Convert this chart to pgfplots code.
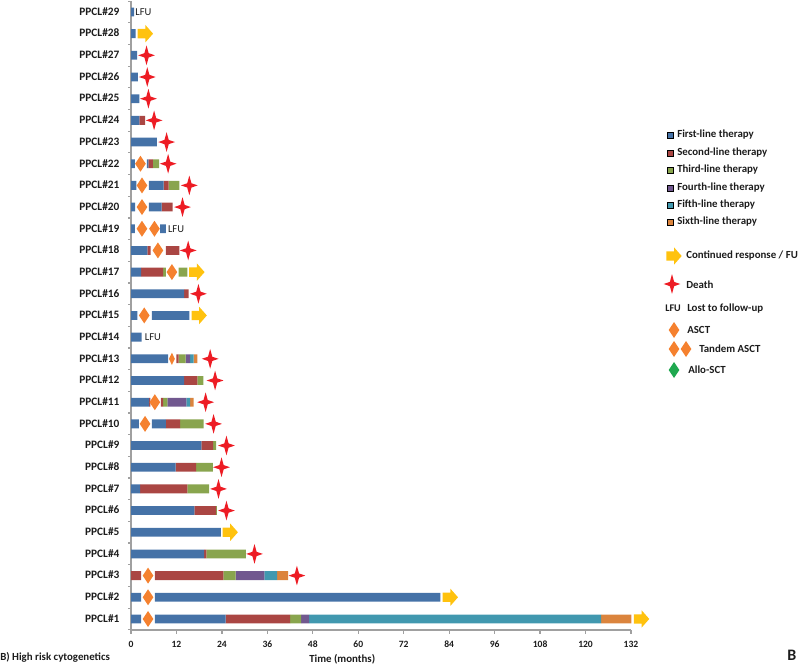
\documentclass[border=0pt]{standalone}
\usepackage{fontspec}
\setmainfont{Carlito}
\usepackage{pgfplots}
\usepackage{pgfplotstable}
\pgfplotsset{compat=1.18}

\definecolor{line1}{HTML}{4572A7}
\definecolor{line2}{HTML}{AA4643}
\definecolor{line3}{HTML}{89A54E}
\definecolor{line4}{HTML}{71588F}
\definecolor{line5}{HTML}{4198AF}
\definecolor{line6}{HTML}{DB843D}
\definecolor{axisgray}{HTML}{A0A0A0}
\definecolor{starred}{HTML}{ED1C24}
\definecolor{diamorange}{HTML}{F5812F}
\definecolor{arrowyellow}{HTML}{FFC20E}
\definecolor{allogreen}{HTML}{1FA84F}
\definecolor{txt}{HTML}{1C1C1C}

% 1 px of the reference = 0.75pt
\pgfdeclareplotmark{deathstar}{%
  \pgfpathmoveto{\pgfqpoint{0pt}{7.4pt}}
  \pgfpathlineto{\pgfqpoint{1.6pt}{1.6pt}}
  \pgfpathlineto{\pgfqpoint{6.3pt}{0pt}}
  \pgfpathlineto{\pgfqpoint{1.6pt}{-1.6pt}}
  \pgfpathlineto{\pgfqpoint{0pt}{-7.4pt}}
  \pgfpathlineto{\pgfqpoint{-1.6pt}{-1.6pt}}
  \pgfpathlineto{\pgfqpoint{-6.3pt}{0pt}}
  \pgfpathlineto{\pgfqpoint{-1.6pt}{1.6pt}}
  \pgfpathclose\pgfusepathqfill}
\pgfdeclareplotmark{contarrow}{%
  \pgfpathmoveto{\pgfqpoint{-5.75pt}{3.5pt}}
  \pgfpathlineto{\pgfqpoint{0pt}{3.5pt}}
  \pgfpathlineto{\pgfqpoint{0pt}{6.5pt}}
  \pgfpathlineto{\pgfqpoint{5.75pt}{0pt}}
  \pgfpathlineto{\pgfqpoint{0pt}{-6.5pt}}
  \pgfpathlineto{\pgfqpoint{0pt}{-3.5pt}}
  \pgfpathlineto{\pgfqpoint{-5.75pt}{-3.5pt}}
  \pgfpathclose\pgfusepathqfill}
\pgfdeclareplotmark{tx}{%
  \pgfpathmoveto{\pgfqpoint{0pt}{6pt}}
  \pgfpathlineto{\pgfqpoint{4pt}{0pt}}
  \pgfpathlineto{\pgfqpoint{0pt}{-6pt}}
  \pgfpathlineto{\pgfqpoint{-4pt}{0pt}}
  \pgfpathclose\pgfusepathqfill}
\pgfdeclareplotmark{txsmall}{%
  \pgfpathmoveto{\pgfqpoint{0pt}{4.6pt}}
  \pgfpathlineto{\pgfqpoint{2.2pt}{0pt}}
  \pgfpathlineto{\pgfqpoint{0pt}{-4.6pt}}
  \pgfpathlineto{\pgfqpoint{-2.2pt}{0pt}}
  \pgfpathclose\pgfusepathqfill}

\pgfplotstableread{
row a1   a2   a3   gap  b1   b2   b3   b4  b5   b6
1   2.7  0    0    3.6  18.7 17.0 2.9  2.1 77.1 8.0
2   2.7  0    0    3.6  75.4 0    0    0   0    0
3   0    2.7  0    3.6  0    18.1 3.2  7.6 3.4  2.9
4   19.3 0.6  10.4 0    0    0    0    0   0    0
5   23.7 0    0    0    0    0    0    0   0    0
6   16.7 5.8  0.2  0    0    0    0    0   0    0
7   2.4  12.5 5.7  0    0    0    0    0   0    0
8   11.8 5.4  4.4  0    0    0    0    0   0    0
9   18.6 3.1  0.8  0    0    0    0    0   0    0
10  2.1  0    0    3.4  3.7  3.8  6.2  0   0    0
11  4.8  0.3  0    2.8  0    0.6  1.1  5.0 1.0  0.9
12  14.0 3.5  1.6  0    0    0    0    0   0    0
13  9.8  0    0    2.2  0    0.6  1.8  1.2 0.9  1.0
14  2.8  0    0    0    0    0    0    0   0    0
15  1.7  0    0    3.8  9.9  0    0    0   0    0
16  14.0 1.2  0    0    0    0    0    0   0    0
17  2.7  5.8  0.7  3.4  0    0    2.3  0   0    0
18  4.3  0.9  0    4.0  0    3.6  0    0   0    0
19  1.0  0    0    6.7  1.5  0    0    0   0    0
20  1.1  0    0    3.6  3.4  2.9  0    0   0    0
21  1.4  0    0    3.3  3.9  1.3  2.9  0   0    0
22  1.0  0    0    3.2  0.4  1.2  1.6  0   0    0
23  6.8  0    0    0    0    0    0    0   0    0
24  2.2  1.5  0    0    0    0    0    0   0    0
25  2.2  0    0    0    0    0    0    0   0    0
26  1.8  0    0    0    0    0    0    0   0    0
27  1.6  0    0    0    0    0    0    0   0    0
28  1.2  0    0    0    0    0    0    0   0    0
29  0.8  0    0    0    0    0    0    0   0    0
}\bars

\pgfplotsset{
  plotarea/.style={
    at={(98.25pt,26.4pt)}, anchor=south west, scale only axis,
    width=375pt, height=471.5pt,
    xmin=0, xmax=132, ymin=0.5, ymax=29.5},
  seg/.style={fill=#1, draw=none},
}
\tikzset{
  lab/.style={anchor=west, inner sep=0pt, text=txt, font=\fontsize{8.15}{9}\selectfont\bfseries},
  lfu/.style={anchor=west, inner sep=0pt, text=txt, font=\fontsize{7.9}{9}\selectfont},
}

\begin{document}
\begin{tikzpicture}[x=1pt,y=1pt]
\path[use as bounding box] (0,0) rectangle (600,498.75);

\begin{axis}[plotarea,
  xbar stacked, bar width=6.6pt,
  axis lines=left, axis line style={-, draw=axisgray, line width=1.2pt},
  xtick={0,12,...,132},
  ytick={1,...,29},
  yticklabels={PPCL\#1,PPCL\#2,PPCL\#3,PPCL\#4,PPCL\#5,PPCL\#6,PPCL\#7,PPCL\#8,PPCL\#9,PPCL\#10,
    PPCL\#11,PPCL\#12,PPCL\#13,PPCL\#14,PPCL\#15,PPCL\#16,PPCL\#17,PPCL\#18,PPCL\#19,PPCL\#20,
    PPCL\#21,PPCL\#22,PPCL\#23,PPCL\#24,PPCL\#25,PPCL\#26,PPCL\#27,PPCL\#28,PPCL\#29},
  minor ytick={0.5,1.5,...,29.5},
  tick align=outside, tick pos=lower,
  major tick length=3pt, minor tick length=2.4pt,
  x tick style={draw=axisgray, line width=0.9pt},
  major y tick style={draw=none},
  minor y tick style={draw=axisgray, line width=0.9pt},
  /pgf/number format/assume math mode=true,
  xticklabel style={font=\fontsize{7.2}{8}\selectfont\bfseries, text=txt, inner sep=0pt, yshift=-5pt},
  yticklabel style={font=\fontsize{8.5}{10}\selectfont\bfseries, text=txt, inner sep=0pt, xshift=-5.5pt, yshift=0.4pt},
  clip=false]
\addplot[seg=line1] table[x=a1,y=row] {\bars};
\addplot[seg=line2] table[x=a2,y=row] {\bars};
\addplot[seg=line3] table[x=a3,y=row] {\bars};
\addplot[draw=none,fill=none] table[x=gap,y=row] {\bars};
\addplot[seg=line1] table[x=b1,y=row] {\bars};
\addplot[seg=line2] table[x=b2,y=row] {\bars};
\addplot[seg=line3] table[x=b3,y=row] {\bars};
\addplot[seg=line4] table[x=b4,y=row] {\bars};
\addplot[seg=line5] table[x=b5,y=row] {\bars};
\addplot[seg=line6] table[x=b6,y=row] {\bars};
\end{axis}

\begin{axis}[plotarea, hide axis, clip=false]
% deaths
\addplot[only marks, mark=deathstar, mark options={fill=starred,draw=none}] coordinates {
  (4.1,27) (4.3,26) (4.6,25) (6.1,24) (9.4,23) (9.8,22) (15.4,21) (13.6,20) (15.1,18)
  (17.8,16) (20.9,13) (22.2,12) (19.7,11) (21.8,10) (25.2,9) (23.9,8) (23.1,7) (25.2,6)
  (32.6,4) (43.8,3)};
% continued response
\addplot[only marks, mark=contarrow, mark options={fill=arrowyellow,draw=none}] coordinates {
  (3.8,28) (17.4,17) (18.0,15) (26.2,5) (84.3,2) (134.8,1)};
% ASCT
\addplot[only marks, mark=tx, mark options={fill=diamorange,draw=none}] coordinates {
  (2.5,22) (2.9,21) (2.9,20) (2.9,19) (6.2,19) (7.1,18) (10.8,17) (3.5,15) (6.3,11) (3.7,10)
  (4.5,3) (4.5,2) (4.5,1)};
\addplot[only marks, mark=txsmall, mark options={fill=diamorange,draw=none}] coordinates {(10.8,13)};
% LFU
\node[lfu] at (axis cs:1.1,29) {LFU};
\node[lfu] at (axis cs:9.7,19) {LFU};
\node[lfu] at (axis cs:3.6,14) {LFU};
\end{axis}

% legend and loose texts, in reference pixels
\begin{axis}[at={(0pt,0pt)}, anchor=south west, scale only axis, width=600pt, height=498.75pt,
  xmin=0, xmax=800, ymin=0, ymax=665, y dir=reverse, hide axis, clip=false]
\addplot[only marks, mark=square*, mark size=2.1pt, mark options={fill=line1,draw=none}] coordinates {(670,135)};
\addplot[only marks, mark=square*, mark size=2.1pt, mark options={fill=line2,draw=none}] coordinates {(670,153)};
\addplot[only marks, mark=square*, mark size=2.1pt, mark options={fill=line3,draw=none}] coordinates {(670,170)};
\addplot[only marks, mark=square*, mark size=2.1pt, mark options={fill=line4,draw=none}] coordinates {(670,188)};
\addplot[only marks, mark=square*, mark size=2.1pt, mark options={fill=line5,draw=none}] coordinates {(670,205)};
\addplot[only marks, mark=square*, mark size=2.1pt, mark options={fill=line6,draw=none}] coordinates {(670,222)};
\addplot[only marks, mark=contarrow, mark options={fill=arrowyellow,draw=none}] coordinates {(674,256)};
\addplot[only marks, mark=deathstar, mark options={fill=starred,draw=none}] coordinates {(672,284)};
\addplot[only marks, mark=tx, mark options={fill=diamorange,draw=none}] coordinates {(674,330) (674,349) (686,349)};
\addplot[only marks, mark=tx, mark options={fill=allogreen,draw=none}] coordinates {(674,370)};
\node[lab] at (axis cs:677,135) {First-line therapy};
\node[lab] at (axis cs:677,153) {Second-line therapy};
\node[lab] at (axis cs:677,170) {Third-line therapy};
\node[lab] at (axis cs:677,187.5) {Fourth-line therapy};
\node[lab] at (axis cs:677,205) {Fifth-line therapy};
\node[lab] at (axis cs:677,222) {Sixth-line therapy};
\node[lab] at (axis cs:686,256) {Continued response / FU};
\node[lab] at (axis cs:686,284.5) {Death};
\node[lfu,font=\fontsize{7.6}{9}\selectfont\bfseries] at (axis cs:665,308) {LFU};
\node[lab] at (axis cs:687,309) {Lost to follow-up};
\node[lab] at (axis cs:687,330) {ASCT};
\node[lab] at (axis cs:699,349) {Tandem ASCT};
\node[lab] at (axis cs:688,370) {Allo-SCT};
\node[lab] at (axis cs:0,657) {B) High risk cytogenetics};
\node[lab] at (axis cs:309,659) {Time (months)};
\node[lab,font=\fontsize{12}{15}\selectfont\bfseries] at (axis cs:787,655.5) {B};
\end{axis}
\end{tikzpicture}
\end{document}
